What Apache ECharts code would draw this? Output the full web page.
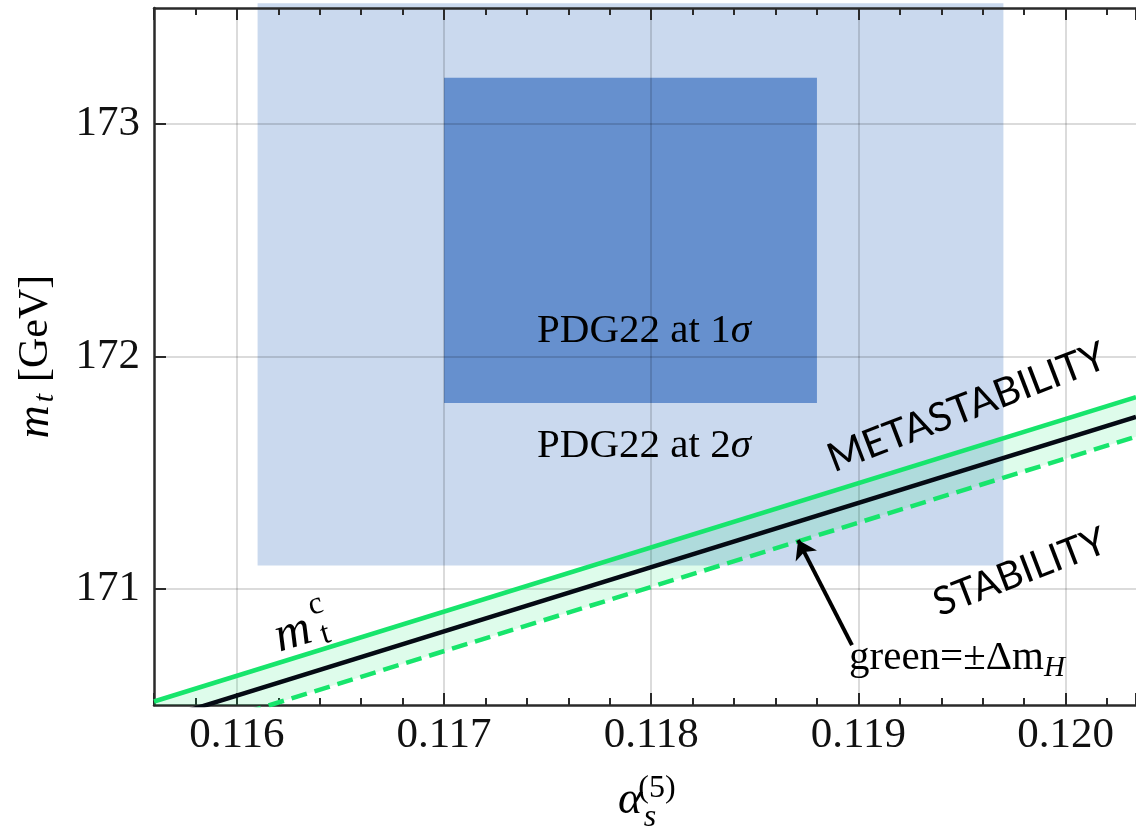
<!DOCTYPE html>
<html>
<head>
<meta charset="utf-8">
<title>mt vs alpha_s</title>
<script src="https://cdn.jsdelivr.net/npm/echarts@6/dist/echarts.min.js"></script>
<style>
  html, body { margin: 0; padding: 0; background: #fff; }
  #chart { width: 1136px; height: 830px; }
</style>
</head>
<body>
<div id="chart"></div>
<script>
  // axis ranges
  const xRange = [0.1156, 0.12034]
  const yRange = [170.5, 173.5]

  // PDG22 boxes: [alphaMin, alphaMax, mtMin, mtMax]
  const box2sigma = [0.1161, 0.1197, 171.1, 173.52]
  const box1sigma = [0.1170, 0.1188, 171.8, 173.2]

  // critical top mass m_t^c, read at the two edges of the plot
  const alphaPts = [0.1156, 0.12034]
  const mtCentral = [170.43, 171.74]
  const mtUpper = [170.515, 171.825] // +Delta m_H
  const mtLower = [170.345, 171.655] // -Delta m_H

  // arrow from the label up to the band edge
  const arrowFrom = [0.118969, 170.758]
  const arrowTo = [0.118709, 171.210]

  // label anchors (data coords)
  const pdg1At = [0.117965, 172.11]
  const pdg2At = [0.117965, 171.615]
  const metaAt = [0.119524, 171.78]
  const stabAt = [0.11978, 171.072]
  const greenAt = [0.119476, 170.70]
  const mtcAt = [0.116271, 170.806]

  const serif = "'Liberation Serif', 'Times New Roman', serif"
  const sans = "Lato, 'Open Sans', sans-serif"
  const green = '#17e56c'
  const boxColors = ['#cad9ee', '#6690ce']

  const chart = echarts.init(document.getElementById('chart'))

  function pairs (ys) {
    return alphaPts.map((a, i) => [a, ys[i]])
  }

  const axisLine = { show: true, onZero: false, lineStyle: { color: '#2a2a2a', width: 2.5 } }
  const gridLine = { show: true, showMinLine: false, showMaxLine: false, lineStyle: { color: 'rgba(0,0,0,0.19)', width: 1.5 } }
  const tickStyle = { color: '#2a2a2a', width: 2 }

  const option = {
    animation: false,
    grid: { left: 154, right: 0, top: 8, bottom: 125 },
    xAxis: [
      {
        type: 'value',
        position: 'bottom',
        min: xRange[0],
        max: xRange[1],
        minInterval: 0.001,
        maxInterval: 0.001,
        z: 3,
        axisLine: axisLine,
        axisTick: { inside: true, length: 12, lineStyle: tickStyle },
        minorTick: { show: true, splitNumber: 5, length: 7, lineStyle: tickStyle },
        axisLabel: {
          margin: 9,
          showMinLabel: false,
          showMaxLabel: false,
          color: '#111',
          fontFamily: serif,
          fontSize: 43,
          formatter: v => v.toFixed(3)
        },
        splitLine: gridLine
      },
      {
        type: 'value',
        position: 'top',
        min: xRange[0],
        max: xRange[1],
        minInterval: 0.001,
        maxInterval: 0.001,
        z: 3,
        axisLine: axisLine,
        axisTick: { inside: true, length: 12, lineStyle: tickStyle },
        minorTick: { show: true, splitNumber: 5, length: 7, lineStyle: tickStyle },
        axisLabel: { show: false },
        splitLine: { show: false }
      }
    ],
    yAxis: {
      type: 'value',
      min: yRange[0],
      max: yRange[1],
      minInterval: 1,
      maxInterval: 1,
      z: 3,
      axisLine: axisLine,
      axisTick: { inside: true, length: 12, lineStyle: tickStyle },
      axisLabel: {
        margin: 14,
        showMinLabel: false,
        showMaxLabel: false,
        color: '#111',
        fontFamily: serif,
        fontSize: 43,
        formatter: v => v.toFixed(0)
      },
      splitLine: gridLine
    },
    series: [
      { // PDG boxes
        type: 'custom',
        z: 1,
        clip: false,
        silent: true,
        encode: { x: [0, 1], y: [2, 3] },
        data: [box2sigma, box1sigma],
        renderItem: function (params, api) {
          const p0 = api.coord([api.value(0), api.value(3)])
          const p1 = api.coord([api.value(1), api.value(2)])
          return {
            type: 'rect',
            shape: { x: p0[0], y: p0[1], width: p1[0] - p0[0], height: p1[1] - p0[1] },
            style: { fill: boxColors[params.dataIndex] }
          }
        }
      },
      { // green band between +-Delta m_H
        type: 'custom',
        z: 5,
        clip: true,
        silent: true,
        data: [[alphaPts[0], mtCentral[0]]],
        renderItem: function (params, api) {
          const pts = [
            api.coord([alphaPts[0], mtUpper[0]]),
            api.coord([alphaPts[1], mtUpper[1]]),
            api.coord([alphaPts[1], mtLower[1]]),
            api.coord([alphaPts[0], mtLower[0]])
          ]
          return { type: 'polygon', shape: { points: pts }, style: { fill: 'rgba(0,230,100,0.13)' } }
        }
      },
      {
        type: 'line', z: 6, showSymbol: false, clip: true,
        data: pairs(mtUpper),
        lineStyle: { color: green, width: 4.5 }
      },
      {
        type: 'line', z: 6, showSymbol: false, clip: true,
        data: pairs(mtLower),
        lineStyle: { color: green, width: 4.5, type: [16, 8] }
      },
      {
        type: 'line', z: 7, showSymbol: false, clip: true,
        data: pairs(mtCentral),
        lineStyle: { color: '#050a14', width: 4.5 }
      },
      { // arrow to the band
        type: 'lines',
        coordinateSystem: 'cartesian2d',
        z: 8,
        symbol: ['none', 'arrow'],
        symbolSize: 18,
        data: [{ coords: [arrowFrom, arrowTo] }],
        lineStyle: { color: '#000', width: 4, opacity: 1 }
      }
    ]
  }
  chart.setOption(option)

  // texts placed from data anchors
  function px (p) {
    return chart.convertToPixel({ gridIndex: 0 }, p)
  }
  const deg = Math.PI / 180
  function txt (at, text, size, font, extra) {
    const p = px(at)
    return Object.assign({
      type: 'text',
      x: p[0],
      y: p[1],
      z: 20,
      style: {
        text: text,
        fontFamily: font,
        fontSize: size,
        fill: '#000',
        align: 'center',
        verticalAlign: 'middle'
      }
    }, extra || {})
  }

  const mtc = px(mtcAt)
  const graphics = [
    txt(pdg1At, 'PDG22 at 1{i|σ}', 41, serif),
    txt(pdg2At, 'PDG22 at 2{i|σ}', 41, serif),
    txt(metaAt, 'METASTABILITY', 40, sans, { rotation: 21 * deg }),
    txt(stabAt, 'STABILITY', 39, sans, { rotation: 21 * deg }),
    txt(greenAt, 'green=±Δm{h|H}', 41, serif),
    { // m_t^c along the line
      type: 'group',
      x: mtc[0],
      y: mtc[1],
      rotation: 17 * deg,
      z: 20,
      children: [
        { type: 'text', x: 0, y: 0, style: { text: 'm', fontFamily: serif, fontStyle: 'italic', fontSize: 50, fill: '#000', align: 'center', verticalAlign: 'middle' } },
        { type: 'text', x: 30, y: -21, style: { text: 'c', fontFamily: serif, fontSize: 32, fill: '#000', align: 'center', verticalAlign: 'middle' } },
        { type: 'text', x: 31, y: 10, style: { text: 't', fontFamily: serif, fontSize: 32, fill: '#000', align: 'center', verticalAlign: 'middle' } }
      ]
    },
    { // y axis title
      type: 'group',
      x: 36,
      y: 358,
      rotation: 90 * deg,
      children: [
        { type: 'text', x: -64, y: 0, style: { text: 'm', fontFamily: serif, fontStyle: 'italic', fontSize: 46, fill: '#000', align: 'center', verticalAlign: 'middle' } },
        { type: 'text', x: -40, y: 9, style: { text: 't', fontFamily: serif, fontStyle: 'italic', fontSize: 30, fill: '#000', align: 'center', verticalAlign: 'middle' } },
        { type: 'text', x: -24, y: 0, style: { text: '[GeV]', fontFamily: serif, fontSize: 42, fill: '#000', align: 'left', verticalAlign: 'middle' } }
      ]
    },
    // x axis title
    { type: 'text', x: 630, y: 801, style: { text: 'α', fontFamily: serif, fontStyle: 'italic', fontSize: 46, fill: '#000', align: 'center', verticalAlign: 'middle' } },
    { type: 'text', x: 650, y: 818, style: { text: 's', fontFamily: serif, fontStyle: 'italic', fontSize: 32, fill: '#000', align: 'center', verticalAlign: 'middle' } },
    { type: 'text', x: 657, y: 789, style: { text: '(5)', fontFamily: serif, fontSize: 32, fill: '#000', align: 'center', verticalAlign: 'middle' } }
  ]
  // rich parts for sigma and the H subscript
  graphics[0].style.rich = { i: { fontStyle: 'italic', fontFamily: serif, fontSize: 41 } }
  graphics[1].style.rich = { i: { fontStyle: 'italic', fontFamily: serif, fontSize: 41 } }
  graphics[4].style.lineHeight = 48
  graphics[4].style.rich = { h: { fontStyle: 'italic', fontFamily: serif, fontSize: 29, lineHeight: 29, verticalAlign: 'bottom' } }

  chart.setOption({ graphic: graphics })
</script>
</body>
</html>
